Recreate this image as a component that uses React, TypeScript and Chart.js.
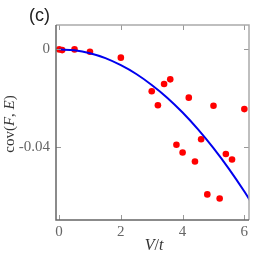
import React, { useEffect, useRef } from "react";
import { Chart, registerables } from "chart.js";

Chart.register(...registerables);

// Measured points
const pointsX = [0, 0.1, 0.5, 1.0, 2.0, 3.0, 3.2, 3.4, 3.6, 3.8, 4.0, 4.2, 4.4, 4.6, 4.8, 5.0, 5.2, 5.4, 5.6, 6.0];
const pointsY = [0, -0.0003, 0, -0.001, -0.0034, -0.0172, -0.0229, -0.0142, -0.0123, -0.0391, -0.0423, -0.0198, -0.046, -0.0369, -0.0595, -0.0231, -0.0612, -0.0429, -0.0452, -0.0245];

// Fit curve
const curveX = [0, 0.5, 1, 1.5, 2, 2.5, 3, 3.5, 4, 4.5, 5, 5.5, 6, 6.2];
const curveY = [0, -0.0004, -0.0016, -0.0036, -0.0065, -0.0101, -0.0146, -0.0198, -0.0259, -0.0328, -0.0405, -0.049, -0.0583, -0.0623];

const xTicks = [0, 2, 4, 6];
const yTicks = [0, -0.04];
const yTickLabels = ["0", "-0.04"];

const SERIF = "'Liberation Serif', 'Times New Roman', serif";

const framePlugin = {
  id: "frame",
  afterDraw(chart: any) {
    const { ctx, chartArea } = chart;
    const { left, right, top, bottom } = chartArea;
    const xs = chart.scales.x;
    const ys = chart.scales.y;
    ctx.save();
    // ticks
    ctx.lineWidth = 1;
    ctx.strokeStyle = "#999";
    const tl = 5;
    xTicks.forEach((v) => {
      const px = Math.round(xs.getPixelForValue(v)) + 0.5;
      ctx.beginPath();
      ctx.moveTo(px, top);
      ctx.lineTo(px, top + tl);
      ctx.moveTo(px, bottom);
      ctx.lineTo(px, bottom - tl);
      ctx.stroke();
    });
    yTicks.forEach((v) => {
      const py = Math.round(ys.getPixelForValue(v)) + 0.5;
      ctx.beginPath();
      ctx.moveTo(right, py);
      ctx.lineTo(right - tl, py);
      ctx.moveTo(left, py);
      ctx.lineTo(left + tl, py);
      ctx.stroke();
    });
    // frame
    ctx.lineWidth = 1.5;
    ctx.strokeStyle = "#aaa";
    ctx.beginPath();
    ctx.moveTo(left, top);
    ctx.lineTo(right, top);
    ctx.lineTo(right, bottom);
    ctx.stroke();
    ctx.strokeStyle = "#666";
    ctx.beginPath();
    ctx.moveTo(left, top);
    ctx.lineTo(left, bottom);
    ctx.lineTo(right, bottom);
    ctx.stroke();

    // panel label
    ctx.fillStyle = "#222";
    ctx.font = "18px 'Liberation Sans', Arial, sans-serif";
    ctx.textAlign = "left";
    ctx.textBaseline = "alphabetic";
    ctx.fillText("(c)", 29, 21);

    // x title: V/t
    const xParts: [string, boolean][] = [["V", true], ["/", false], ["t", true]];
    const xSize = 16;
    const widthOf = (parts: [string, boolean][], size: number) =>
      parts.reduce((w, [t, it]) => {
        ctx.font = `${it ? "italic " : ""}${size}px ${SERIF}`;
        return w + ctx.measureText(t).width;
      }, 0);
    ctx.fillStyle = "#333";
    let w = widthOf(xParts, xSize);
    let cx = 154 - w / 2;
    xParts.forEach(([t, it]) => {
      ctx.font = `${it ? "italic " : ""}${xSize}px ${SERIF}`;
      ctx.fillText(t, cx, 250);
      cx += ctx.measureText(t).width;
    });

    // y title: cov(F, E)
    const yParts: [string, boolean][] = [["cov(", false], ["F", true], [", ", false], ["E", true], [")", false]];
    const ySize = 15;
    w = widthOf(yParts, ySize);
    ctx.translate(14, 124);
    ctx.rotate(-Math.PI / 2);
    let cy = -w / 2;
    yParts.forEach(([t, it]) => {
      ctx.font = `${it ? "italic " : ""}${ySize}px ${SERIF}`;
      ctx.fillText(t, cy, 0);
      cy += ctx.measureText(t).width;
    });
    ctx.restore();
  },
};

export default function App() {
  const ref = useRef<HTMLCanvasElement>(null);
  useEffect(() => {
    document.body.style.margin = "0";
    const chart = new Chart(ref.current!, {
      type: "scatter",
      data: {
        datasets: [
          {
            type: "line",
            data: curveX.map((x, i) => ({ x, y: curveY[i] })),
            borderColor: "#0000ee",
            borderWidth: 2,
            pointRadius: 0,
            cubicInterpolationMode: "monotone",
            fill: false,
          } as any,
          {
            data: pointsX.map((x, i) => ({ x, y: pointsY[i] })),
            backgroundColor: "#ff0000",
            borderColor: "#ff0000",
            pointRadius: 3.3,
            borderWidth: 0,
          },
        ],
      },
      options: {
        animation: false,
        responsive: false,
        layout: { padding: { left: 0, right: 2, top: 25, bottom: 0 } },
        plugins: { legend: { display: false }, tooltip: { enabled: false } },
        scales: {
          x: {
            type: "linear",
            min: -0.1,
            max: 6.15,
            afterFit: (s: any) => { s.height = 34; },
            afterBuildTicks: (s: any) => { s.ticks = xTicks.map((v) => ({ value: v })); },
            grid: { display: false, drawTicks: false },
            border: { display: false },
            ticks: {
              color: "#666",
              font: { family: SERIF, size: 15 },
              padding: 3,
              maxRotation: 0,
              callback: (v: any) => String(v),
            },
          },
          y: {
            type: "linear",
            min: -0.07,
            max: 0.01,
            afterFit: (s: any) => { s.width = 56; },
            afterBuildTicks: (s: any) => { s.ticks = yTicks.map((v) => ({ value: v })); },
            grid: { display: false, drawTicks: false },
            border: { display: false },
            ticks: {
              color: "#666",
              font: { family: SERIF, size: 15 },
              padding: 6,
              callback: (v: any) => {
                const i = yTicks.findIndex((t) => Math.abs(t - v) < 1e-9);
                return i >= 0 ? yTickLabels[i] : "";
              },
            },
          },
        },
      },
      plugins: [framePlugin],
    });
    return () => chart.destroy();
  }, []);
  return <canvas ref={ref} width={253} height={254} style={{ display: "block" }} />;
}
